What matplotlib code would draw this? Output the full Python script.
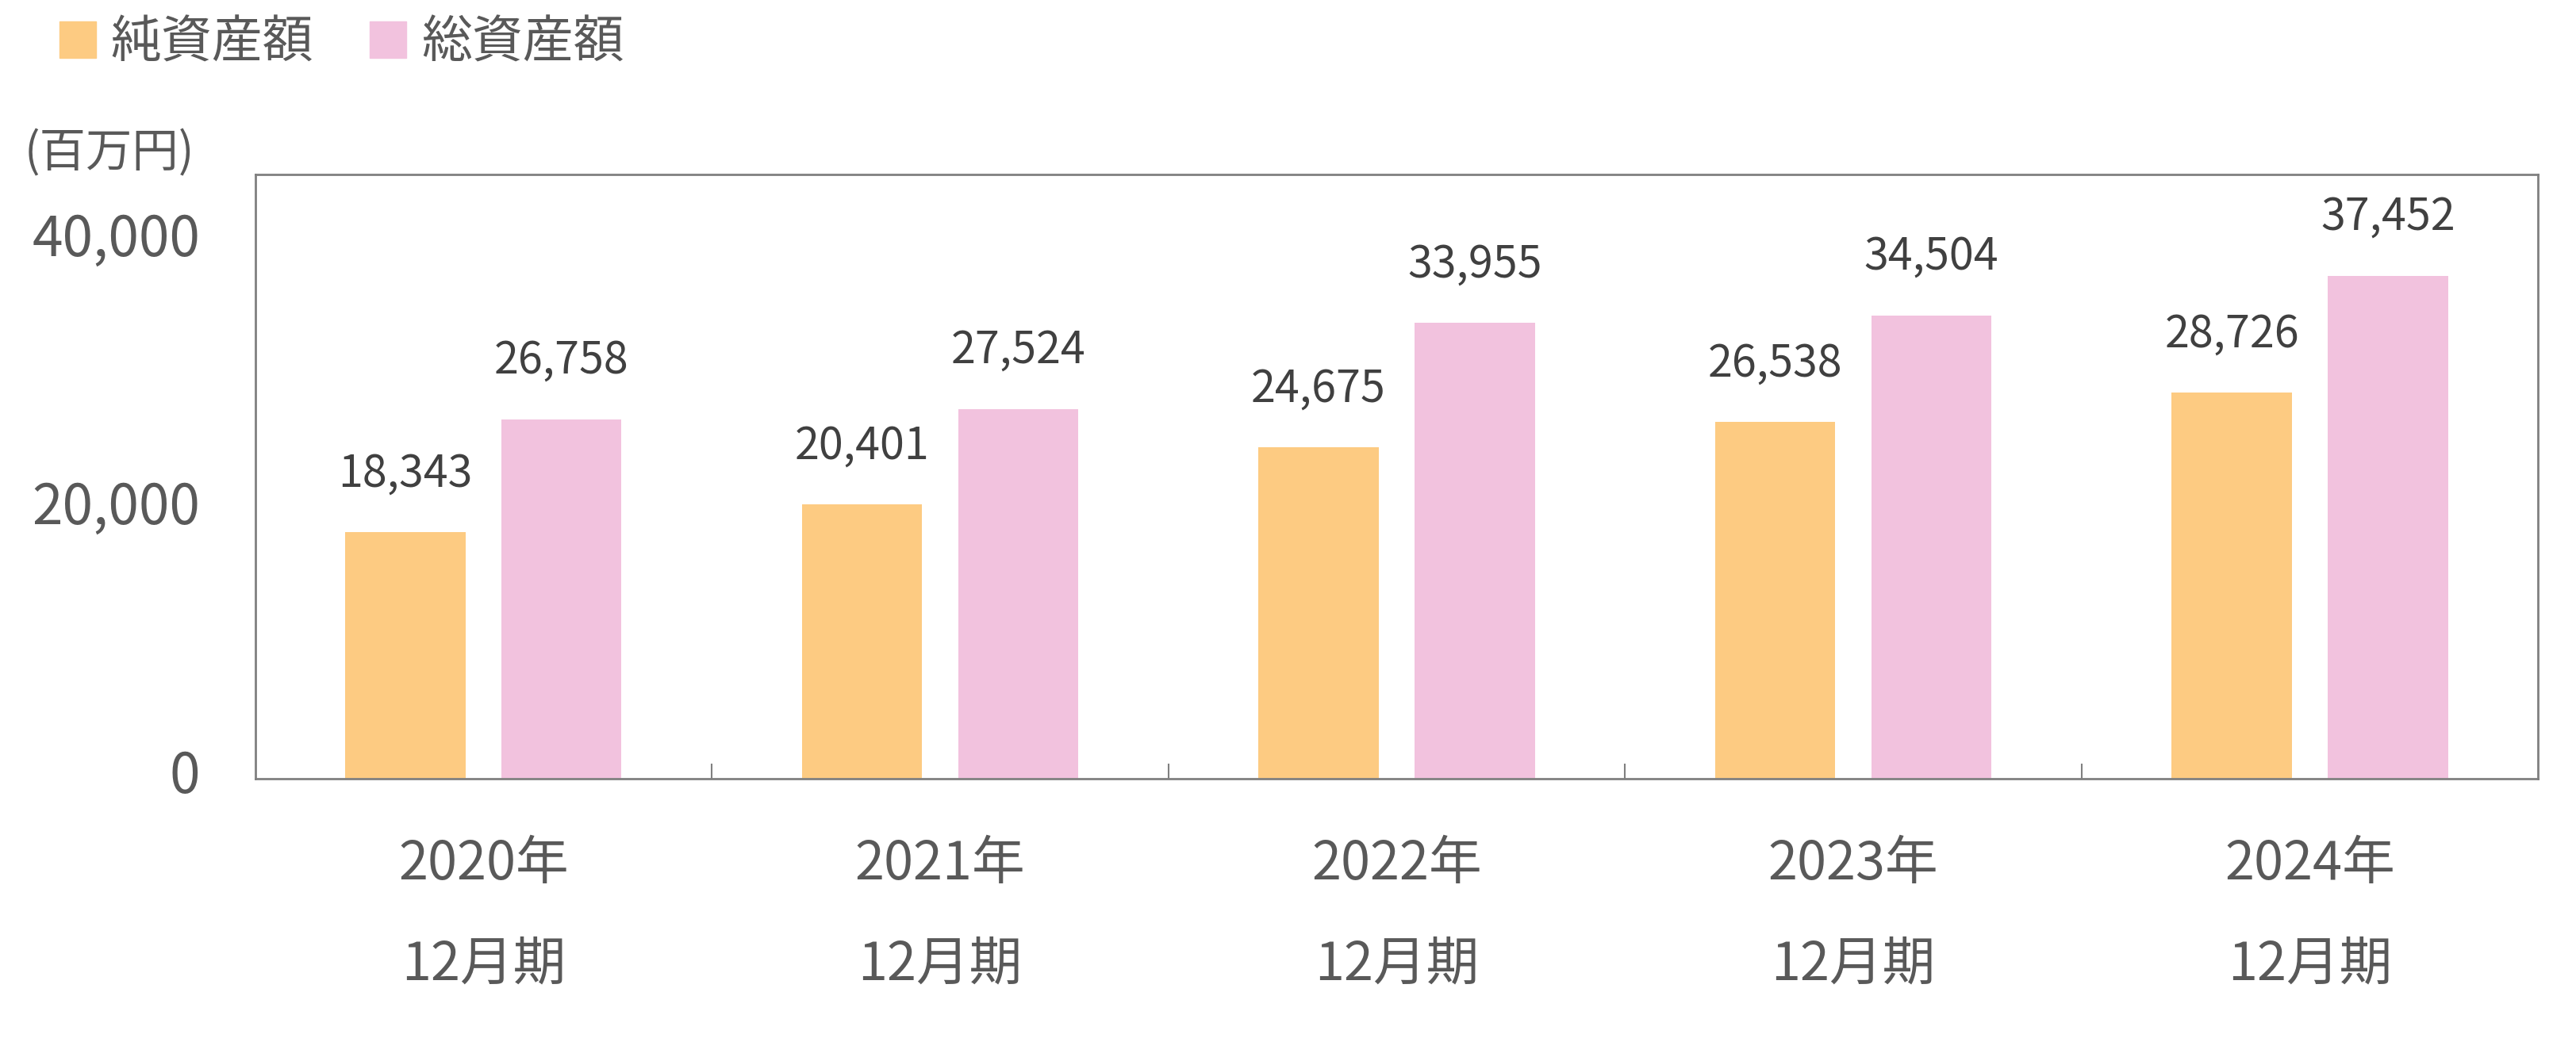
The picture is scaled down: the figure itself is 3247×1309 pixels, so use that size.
import numpy as np
import matplotlib.pyplot as plt
from matplotlib.patches import Patch
from matplotlib.transforms import ScaledTranslation

plt.rcParams['font.family'] = ['Noto Sans CJK JP', 'DejaVu Sans']

years = ['2020年', '2021年', '2022年', '2023年', '2024年']
period = '12月期'
net_assets = [18343, 20401, 24675, 26538, 28726]
total_assets = [26758, 27524, 33955, 34504, 37452]
series_names = ['純資産額', '総資産額']

c_net = '#FDCB82'
c_total = '#F2C2DE'
txt = '#595959'
spine_c = '#808080'

fig = plt.figure(figsize=(32.48, 13.09), dpi=100)
ax = fig.add_axes([0.099, 0.250, 0.886, 0.582])

x = np.arange(len(years))
w = 0.263
off = 0.171
b1 = ax.bar(x - off, net_assets, w, color=c_net)
b2 = ax.bar(x + off, total_assets, w, color=c_total)

for bars, vals in ((b1, net_assets), (b2, total_assets)):
    for rect, v in zip(bars, vals):
        ax.annotate(f'{v:,}', (rect.get_x() + rect.get_width() / 2, v),
                    xytext=(0, 53), textcoords='offset points',
                    ha='center', va='center', fontsize=40, color='#404040')

ax.set_xlim(-0.5, len(years) - 0.5)
ax.set_ylim(0, 45000)
ax.set_yticks([0, 20000, 40000])
ax.set_yticklabels([f'{t:,}' for t in [0, 20000, 40000]])
ax.tick_params(axis='y', length=0, pad=50, labelsize=50, labelcolor=txt)
shift = ScaledTranslation(0, 7 / 72, fig.dpi_scale_trans)
for lab in ax.get_yticklabels():
    lab.set_transform(lab.get_transform() + shift)

ax.set_xticks(x[:-1] + 0.5)
ax.set_xticklabels([])
ax.tick_params(axis='x', direction='in', length=14, width=1.5, color=spine_c)

tr = ax.get_xaxis_transform()
for xi, yr in zip(x, years):
    ax.text(xi, -0.142, yr, transform=tr, ha='center', va='center', fontsize=48, color=txt)
    ax.text(xi, -0.308, period, transform=tr, ha='center', va='center', fontsize=48, color=txt)

for s in ax.spines.values():
    s.set_color(spine_c)
    s.set_linewidth(2)

fig.text(0.0095, 0.852, '(百万円)', ha='left', va='center', fontsize=42, color=txt)

handles = [Patch(color=c_net, label=series_names[0]), Patch(color=c_total, label=series_names[1])]
fig.legend(handles=handles, loc='upper left', bbox_to_anchor=(0.023, 0.984), ncol=2,
           frameon=False, fontsize=46, handlelength=0.72, handleheight=0.72,
           handletextpad=0.3, columnspacing=1.1, borderpad=0, borderaxespad=0,
           labelcolor=txt)

fig.savefig('out.png', dpi=100)
